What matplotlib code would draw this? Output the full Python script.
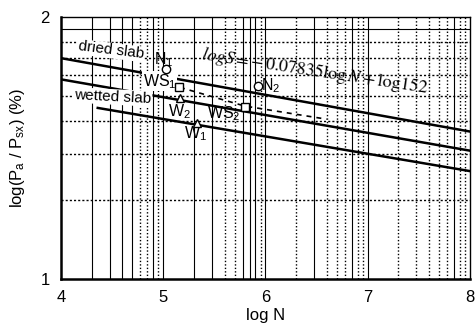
import numpy as np
import matplotlib.pyplot as plt

plt.rcParams['font.family'] = ['Liberation Sans', 'DejaVu Sans']
plt.rcParams['mathtext.fontset'] = 'custom'
plt.rcParams['mathtext.rm'] = 'Liberation Sans'
plt.rcParams['mathtext.it'] = 'Liberation Sans:italic'

# fitted lines (log N, log ratio)
dried_x = [4.0, 8.0]
dried_y = [1.843, 1.563]
wetted_x = [4.0, 8.0]
wetted_y = [1.762, 1.490]
low_x = [4.36, 8.0]
low_y = [1.653, 1.412]
dash_x = [5.07, 5.80, 6.60]
dash_y = [1.742, 1.660, 1.610]

# measured points
n_x, n_y = [5.024, 5.93], [1.801, 1.737]
ws_x, ws_y = [5.154, 5.80], [1.734, 1.655]
w_x, w_y = [5.164, 5.327], [1.690, 1.594]

# grid: which sub-decade lines are solid (k = 2..9)
solid_k_x = {4: [2, 3, 4, 5, 8], 5: [2, 3, 6, 7, 8], 6: [3, 7], 7: [7]}
solid_k_y = [9]

fig = plt.figure(figsize=(4.76, 3.33), dpi=100)
ax = fig.add_axes([0.128, 0.162, 0.859, 0.787])
ax.set_xlim(4, 8)
ax.set_ylim(1, 2)

for d in range(4, 8):
    if d > 4:
        ax.axvline(d, color='k', lw=0.8, zorder=1)
    for k in range(2, 10):
        xv = d + np.log10(k)
        if k in solid_k_x[d]:
            ax.axvline(xv, color='k', lw=0.8, zorder=1)
        else:
            ax.axvline(xv, color='k', lw=1.0, ls=(0, (1, 1.5)), zorder=1)
for k in range(2, 10):
    yv = 1 + np.log10(k)
    if k in solid_k_y:
        ax.axhline(yv, color='k', lw=0.8, zorder=1)
    else:
        ax.axhline(yv, color='k', lw=1.0, ls=(0, (1.5, 1.5)), zorder=1)

ax.plot(dried_x, dried_y, color='k', lw=1.8, zorder=3)
ax.plot(wetted_x, wetted_y, color='k', lw=1.8, zorder=3)
ax.plot(low_x, low_y, color='k', lw=1.8, zorder=3)
ax.plot(dash_x, dash_y, color='k', lw=1.2, ls=(0, (3, 3)), zorder=3)

ax.plot(n_x, n_y, 'o', mfc='white', mec='k', ms=6, mew=1.0, zorder=6)
ax.plot(ws_x, ws_y, 's', mfc='white', mec='k', ms=6, mew=1.0, zorder=6)
ax.plot(w_x, w_y, '^', mfc='white', mec='k', ms=6, mew=1.0, zorder=6)

bb = dict(facecolor='white', edgecolor='none', pad=0.5)
ax.text(4.16, 1.872, 'dried slab', fontsize=11, rotation=-7, ha='left', va='center', bbox=bb, zorder=5)
ax.text(4.91, 1.838, r'N$_1$', fontsize=11.5, ha='left', va='center', zorder=5)
ax.text(4.13, 1.695, 'wetted slab', fontsize=11, rotation=-3, ha='left', va='center', bbox=bb, zorder=5)
ax.text(5.96, 1.737, r'N$_2$', fontsize=11.5, ha='left', va='center', zorder=5)
ax.text(5.13, 1.755, r'WS$_1$', fontsize=11.5, ha='right', va='center', bbox=bb, zorder=5)
ax.text(5.43, 1.63, r'WS$_2$', fontsize=11.5, ha='left', va='center', zorder=5)
ax.text(5.05, 1.637, r'W$_2$', fontsize=11.5, ha='left', va='center', zorder=5)
ax.text(5.20, 1.555, r'W$_1$', fontsize=11.5, ha='left', va='center', zorder=5)
ax.text(6.48, 1.79, r'$logS = -\,0.07835\mathrm{log}\,N + \mathrm{log}152$', fontsize=13,
        rotation=-8.5, ha='center', va='center', zorder=5, math_fontfamily='stix')

ax.set_xticks([4, 5, 6, 7, 8])
ax.set_yticks([1, 2])
ax.tick_params(length=0, labelsize=12, pad=8)
ax.set_xlabel('log N', fontsize=12, labelpad=2)
ax.set_ylabel(r'log(P$_\mathrm{a}$ / P$_\mathrm{sx}$) (%)', fontsize=12, labelpad=10)
for s in ['left', 'bottom']:
    ax.spines[s].set_linewidth(1.8)
for s in ['top', 'right']:
    ax.spines[s].set_linewidth(1.0)

fig.savefig('out.png', dpi=100)
